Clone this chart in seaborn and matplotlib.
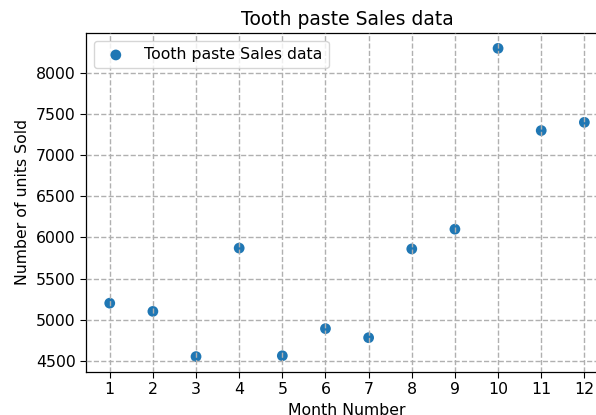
"""Tooth paste monthly sales — scatter chart."""

import matplotlib
import pandas as pd
import seaborn as sns

matplotlib.use("Agg")
import matplotlib.pyplot as plt

MONTHS = [1, 2, 3, 4, 5, 6, 7, 8, 9, 10, 11, 12]
TOOTHPASTE_UNITS = [5200, 5100, 4550, 5870, 4560, 4890, 4780, 5860, 6100, 8300, 7300, 7400]
Y_TICKS = [4500, 5000, 5500, 6000, 6500, 7000, 7500, 8000]
SERIES_LABEL = "Tooth paste Sales data"


def configure_plot_style() -> None:
    sns.set_style("ticks")
    plt.rcParams.update(
        {
            "font.family": ["DejaVu Sans"],
            "text.color": "black",
            "axes.labelcolor": "black",
            "axes.titlesize": 13.5,
            "axes.labelsize": 11.3,
            "xtick.labelsize": 11.3,
            "ytick.labelsize": 11.3,
            "legend.fontsize": 11.3,
            "axes.linewidth": 0.9,
            "axes.edgecolor": "black",
            "xtick.color": "black",
            "ytick.color": "black",
            "xtick.direction": "out",
            "ytick.direction": "out",
            "xtick.major.size": 4,
            "ytick.major.size": 4,
        }
    )


def main() -> None:
    configure_plot_style()
    df = pd.DataFrame({"month": MONTHS, "units": TOOTHPASTE_UNITS})

    fig = plt.figure(figsize=(5.96, 4.15), dpi=100)
    ax = fig.add_axes([0.1443, 0.1036, 0.876, 0.817])
    sns.scatterplot(
        data=df, x="month", y="units", ax=ax,
        color="#1f77b4", s=60, edgecolor="none", label=SERIES_LABEL,
    )
    ax.set_xticks(MONTHS)
    ax.set_yticks(Y_TICKS)
    ax.margins(x=0.05, y=0.05)
    ax.grid(True, linewidth=1, linestyle="--", color="#b0b0b0")
    ax.set_axisbelow(False)
    ax.set_xlabel("Month Number")
    ax.set_ylabel("Number of units Sold")
    ax.set_title("Tooth paste Sales data", color="black")
    ax.legend(loc="upper left", frameon=True, fancybox=True, framealpha=0.8)
    fig.savefig("out.png", dpi=100)
    plt.close(fig)


if __name__ == "__main__":
    main()
